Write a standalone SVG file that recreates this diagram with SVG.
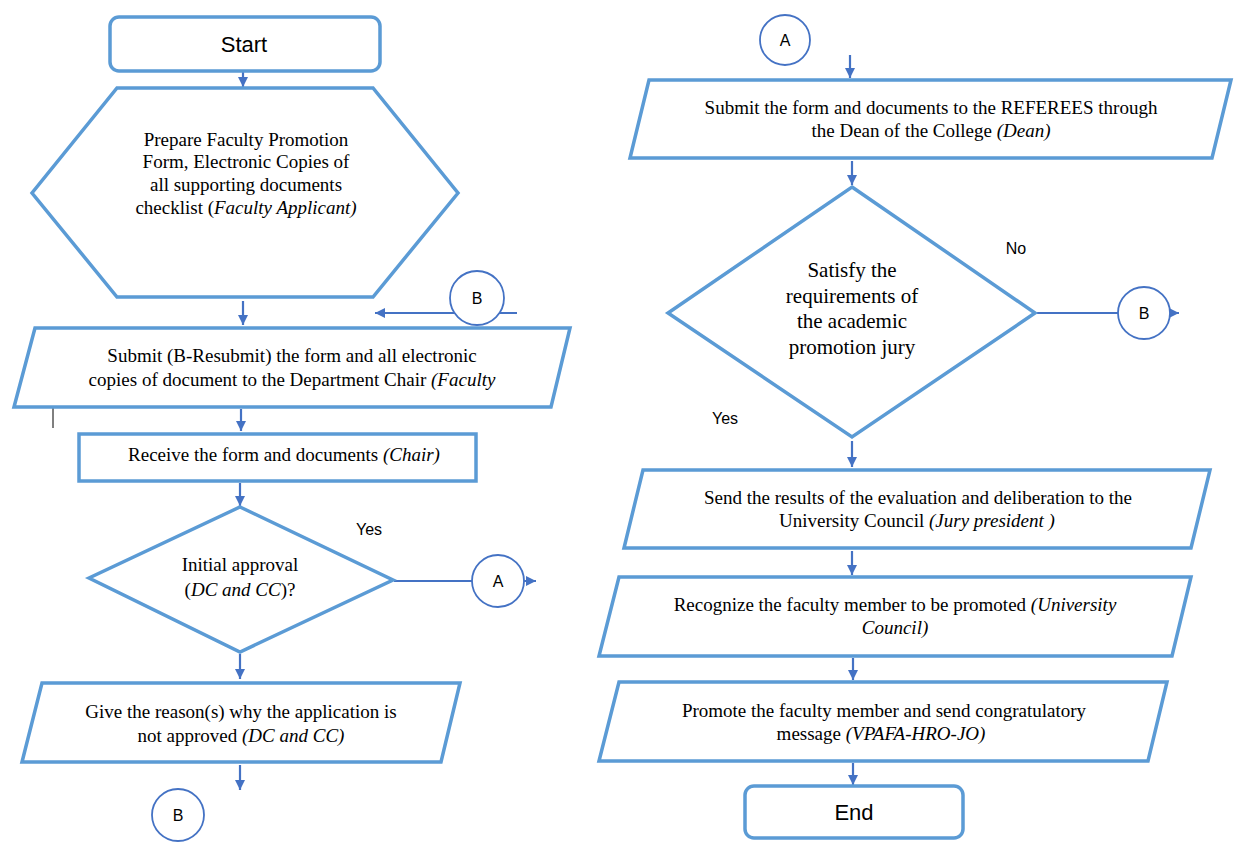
<svg xmlns="http://www.w3.org/2000/svg" width="1253" height="854" viewBox="0 0 1253 854">
<defs>
<marker id="ah" viewBox="0 0 10 10" refX="10" refY="5" markerWidth="10" markerHeight="10" markerUnits="userSpaceOnUse" orient="auto">
<path d="M0,0 L10,5 L0,10 z" fill="#4472C4"/>
</marker>
</defs>
<style>
.shape{fill:#fff;stroke:#5B9BD5;stroke-width:3.5;stroke-linejoin:miter}
.term{fill:#fff;stroke:#5B9BD5;stroke-width:3.5}
.con{fill:#fff;stroke:#4472C4;stroke-width:1.8}
.ln{fill:none;stroke:#4472C4;stroke-width:2.2}
.arr{fill:none;stroke:#4472C4;stroke-width:2.2;marker-end:url(#ah)}
.t{font-family:"Liberation Serif","Times New Roman",serif;font-size:19px;fill:#000;text-anchor:middle}
.tb{font-family:"Liberation Serif","Times New Roman",serif;font-size:21px;fill:#000;text-anchor:middle}
.s{font-family:"Liberation Sans",Arial,sans-serif;font-size:16px;fill:#000;text-anchor:middle}
.st{font-family:"Liberation Sans",Arial,sans-serif;font-size:22px;fill:#000;text-anchor:middle}
.i{font-style:italic}
</style>
<rect width="1253" height="854" fill="#fff"/>

<g id="connectors">
<line class="arr" x1="243" y1="71" x2="243" y2="87"/>
<line class="arr" x1="243" y1="301" x2="243" y2="325"/>
<line class="arr" x1="517" y1="313" x2="375" y2="313"/>
<line class="arr" x1="241" y1="409" x2="241" y2="431"/>
<line class="arr" x1="240" y1="483" x2="240" y2="506"/>
<line class="arr" x1="394" y1="581" x2="536" y2="581"/>
<line class="arr" x1="240" y1="654" x2="240" y2="679"/>
<line class="arr" x1="240" y1="765" x2="240" y2="790"/>
<line class="arr" x1="850" y1="55" x2="850" y2="78"/>
<line class="arr" x1="852" y1="161" x2="852" y2="185"/>
<line class="arr" x1="1037" y1="313" x2="1179" y2="313"/>
<line class="arr" x1="852" y1="441" x2="852" y2="467"/>
<line class="arr" x1="852" y1="551" x2="852" y2="575"/>
<line class="arr" x1="853" y1="658" x2="853" y2="680"/>
<line class="arr" x1="853" y1="763" x2="853" y2="785"/>
</g>

<line x1="53" y1="407" x2="53" y2="428" stroke="#000" stroke-width="1"/>

<g id="start">
<rect class="term" x="110" y="17" width="270" height="54" rx="9"/>
<text class="st" x="244" y="52">Start</text>
</g>

<g id="prepare">
<polygon class="shape" points="117,88 373,88 458,193 373,297 117,297 32,193"/>
<text class="t" x="246" y="146">Prepare Faculty Promotion</text>
<text class="t" x="246" y="168">Form, Electronic Copies of</text>
<text class="t" x="246" y="191">all supporting documents</text>
<text class="t" x="246" y="214">checklist (<tspan class="i">Faculty Applicant)</tspan></text>
</g>

<g id="connB1">
<circle class="con" cx="477" cy="298" r="27"/>
<text class="s" x="477" y="304">B</text>
</g>

<g id="submit">
<polygon class="shape" points="35,328 570,328 551,407 14,407"/>
<text class="t" x="292" y="362">Submit (B-Resubmit) the form and all electronic</text>
<text class="t" x="292" y="386">copies of document to the Department Chair <tspan class="i">(Faculty</tspan></text>
</g>

<g id="receive">
<rect class="shape" x="79" y="434" width="397" height="47"/>
<text class="t" x="284" y="461">Receive the form and documents <tspan class="i">(Chair)</tspan></text>
</g>

<g id="initial">
<polygon class="shape" points="240,507 393,580 240,652 89,578"/>
<text class="t" x="240" y="571">Initial approval</text>
<text class="t" x="240" y="596">(<tspan class="i">DC and CC</tspan>)?</text>
<text class="s" x="369" y="535">Yes</text>
</g>

<g id="connA1">
<circle class="con" cx="498" cy="581" r="26"/>
<text class="s" x="498" y="587">A</text>
</g>

<g id="give">
<polygon class="shape" points="42,683 460,683 441,762 22,762"/>
<text class="t" x="241" y="718">Give the reason(s) why the application is</text>
<text class="t" x="241" y="742">not approved <tspan class="i">(DC and CC)</tspan></text>
</g>

<g id="connB2">
<circle class="con" cx="178" cy="815" r="26"/>
<text class="s" x="178" y="821">B</text>
</g>

<g id="connA2">
<circle class="con" cx="785" cy="40" r="25"/>
<text class="s" x="785" y="46">A</text>
</g>

<g id="referees">
<polygon class="shape" points="649,80 1231,80 1212,158 630,158"/>
<text class="t" x="931" y="114">Submit the form and documents to the REFEREES through</text>
<text class="t" x="931" y="137">the Dean of the College <tspan class="i">(Dean)</tspan></text>
</g>

<g id="satisfy">
<polygon class="shape" points="852,187 1035,313 852,437 668,313"/>
<text class="tb" x="852" y="277">Satisfy the</text>
<text class="tb" x="852" y="303">requirements of</text>
<text class="tb" x="852" y="328">the academic</text>
<text class="tb" x="852" y="354">promotion jury</text>
<text class="s" x="1016" y="254">No</text>
<text class="s" x="725" y="424">Yes</text>
</g>

<g id="connB3">
<circle class="con" cx="1144" cy="313" r="26"/>
<text class="s" x="1144" y="319">B</text>
</g>

<g id="send">
<polygon class="shape" points="643,470 1210,470 1191,548 624,548"/>
<text class="t" x="918" y="504">Send the results of the evaluation and deliberation to the</text>
<text class="t" x="917" y="527">University Council <tspan class="i">(Jury president )</tspan></text>
</g>

<g id="recognize">
<polygon class="shape" points="619,577 1191,577 1172,656 599,656"/>
<text class="t" x="895" y="611">Recognize the faculty member to be promoted <tspan class="i">(University</tspan></text>
<text class="t i" x="895" y="634">Council)</text>
</g>

<g id="promote">
<polygon class="shape" points="619,682 1167,682 1148,761 599,761"/>
<text class="t" x="884" y="717">Promote the faculty member and send congratulatory</text>
<text class="t" x="881" y="740">message <tspan class="i">(VPAFA-HRO-JO)</tspan></text>
</g>

<g id="end">
<rect class="term" x="745" y="786" width="218" height="52" rx="9"/>
<text class="st" x="854" y="820">End</text>
</g>
</svg>
